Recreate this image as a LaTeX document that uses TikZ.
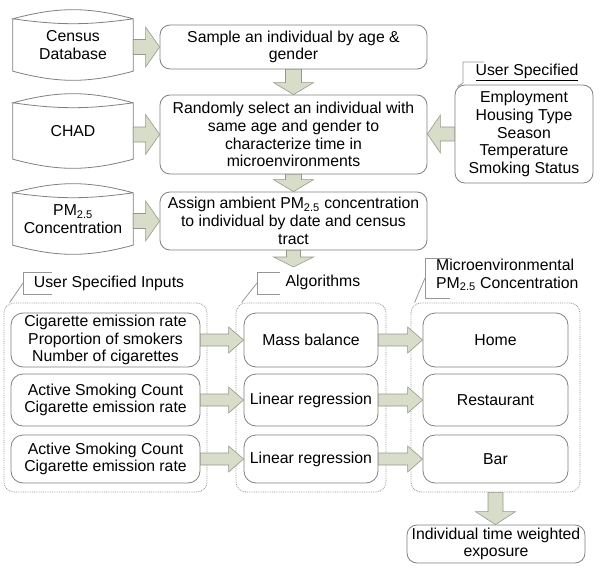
\documentclass[tikz,border=0pt]{standalone}
\usepackage{fontspec}
\setmainfont{Liberation Sans}
\usetikzlibrary{calc}
\definecolor{MyGrey}{RGB}{128,128,128}
\definecolor{MyDots}{RGB}{150,150,150}
\definecolor{MyFill}{RGB}{216,221,202}
\definecolor{MyEdge}{RGB}{150,152,135}
\newcommand{\lw}{0.8pt}
% outline of a database drum round a node
\newcommand{\dbdraw}[1]{%
  \draw[MyGrey, line width=\lw]
    ([yshift=-9pt]#1.north west) -- ([yshift=9pt]#1.south west)
    to[bend right=15] ([yshift=9pt]#1.south east)
    -- ([yshift=-9pt]#1.north east)
    to[bend right=15] ([yshift=-9pt]#1.north west)
    to[bend right=8] ([yshift=-9pt]#1.north east);}
\tikzset{
  box/.style={draw=MyGrey, line width=\lw, rounded corners=10pt, align=center, inner sep=0pt},
  grp/.style={draw=MyDots, line width=\lw, densely dotted, rounded corners=10pt, inner sep=0pt},
  db/.style={align=center, inner sep=0pt, minimum width=120pt, minimum height=70pt},
  callout/.style={draw=MyDots, line width=\lw},
  fatarrow/.style={draw=MyEdge, fill=MyFill, line width=0.6pt, line join=miter},
  % block arrow, left or right: shaft half width, head half width, head length
  hfat/.style n args={3}{fatarrow, to path={let \p1=(\tikztostart), \p2=(\tikztotarget),
      \n1={sign(\x2-\x1)} in
      (\x1,{\y1+#1}) -- ({\x2-(\n1)*#3},{\y1+#1}) -- ({\x2-(\n1)*#3},{\y1+#2})
      -- (\x2,\y1) -- ({\x2-(\n1)*#3},{\y1-#2}) -- ({\x2-(\n1)*#3},{\y1-#1})
      -- (\x1,{\y1-#1}) -- cycle}},
  % block arrow, up or down
  vfat/.style n args={3}{fatarrow, to path={let \p1=(\tikztostart), \p2=(\tikztotarget),
      \n1={sign(\y2-\y1)} in
      ({\x1+#1},\y1) -- ({\x1+#1},{\y2-(\n1)*#3}) -- ({\x1+#2},{\y2-(\n1)*#3})
      -- (\x1,\y2) -- ({\x1-#2},{\y2-(\n1)*#3}) -- ({\x1-#1},{\y2-(\n1)*#3})
      -- ({\x1-#1},\y1) -- cycle}},
}

\begin{document}
\begin{tikzpicture}[x=1pt, y=-1pt, font=\fontsize{15.8}{17.8}\selectfont]
  \useasboundingbox (0,0) rectangle (600,570);

  % data sources
  \node[db] (census) at (73,45) {Census\\Database};
  \node[db, minimum height=74pt] (chad) at (73,131) {CHAD};
  \node[db] (pmdb) at (73,219) {PM\textsubscript{2.5}\\Concentration};
  \foreach \db in {census, chad, pmdb} {\dbdraw{\db}}

  % main steps
  \node[box, minimum width=267pt, minimum height=44pt] (sample) at (293.5,47)
    {Sample an individual by age \&\\gender};
  \node[box, minimum width=267pt, minimum height=79pt] (random) at (293.5,134.5)
    {Randomly select an individual with\\same age and gender to\\characterize time in\\microenvironments};
  \node[box, minimum width=267pt, minimum height=58pt] (assign) at (293.5,221)
    {Assign ambient PM\textsubscript{2.5} concentration\\to individual by date and census\\tract};
  \node[box, minimum width=138pt, minimum height=98pt] (user) at (524,134)
    {Employment\\Housing Type\\Season\\Temperature\\Smoking Status};
  \node (userlbl) at (527,72) {\underline{User Specified}};
  \coordinate (algtop) at (293.5,267);

  % groups
  \node[grp, minimum width=203pt, minimum height=189pt] (inputs) at (105.5,397.5) {};
  \node[grp, minimum width=150pt, minimum height=189pt] (algs) at (311,397.5) {};
  \node[grp, minimum width=169pt, minimum height=189pt] (micro) at (495.5,397.5) {};
  \node (inlbl) at (109,283) {User Specified Inputs};
  \node (alglbl) at (323,282) {Algorithms};
  \node[align=left, anchor=west, inner sep=0pt] (melbl) at (436,275)
    {Microenvironmental\\PM\textsubscript{2.5} Concentration};

  \node[box, rounded corners=12pt, minimum width=189pt, minimum height=54pt] (in1) at (105.5,340)
    {Cigarette emission rate\\Proportion of smokers\\Number of cigarettes};
  \node[box, rounded corners=12pt, minimum width=189pt, minimum height=52pt] (in2) at (105.5,400)
    {Active Smoking Count\\Cigarette emission rate};
  \node[box, rounded corners=12pt, minimum width=189pt, minimum height=48pt] (in3) at (105.5,459)
    {Active Smoking Count\\Cigarette emission rate};
  \node[box, rounded corners=12pt, minimum width=134pt, minimum height=54pt] (alg1) at (311,340) {Mass balance};
  \node[box, rounded corners=12pt, minimum width=134pt, minimum height=52pt] (alg2) at (311,400) {Linear regression};
  \node[box, rounded corners=12pt, minimum width=134pt, minimum height=48pt] (alg3) at (311,459) {Linear regression};
  \node[box, rounded corners=12pt, minimum width=145pt, minimum height=54pt] (me1) at (495.5,340) {Home};
  \node[box, rounded corners=12pt, minimum width=145pt, minimum height=52pt] (me2) at (495.5,400) {Restaurant};
  \node[box, rounded corners=12pt, minimum width=145pt, minimum height=48pt] (me3) at (495.5,459) {Bar};

  \node[box, minimum width=178pt, minimum height=38pt] (final) at (496,544)
    {Individual time weighted\\exposure};

  % callouts
  \draw[callout] (484,62) -| (463,83) -- ([xshift=3pt,yshift=-2pt]user.north west);
  \draw[callout] (52,272) -| (23,294) -- (52,294);
  \draw[callout] (23,283) -- ([xshift=6pt]inputs.north west);
  \draw[callout] (280,272) -| (257,294) -- (280,294);
  \draw[callout] (257,283) -- ([xshift=6pt]algs.north west);
  \draw[callout] (450,258) -| (425,298) -- (450,298);
  \draw[callout] (425,278) -- ([xshift=4pt]micro.north west);

  % arrows
  \draw[hfat={7.5pt}{20pt}{14pt}] (census.east |- sample.west) to (sample.west);
  \draw[hfat={7.5pt}{20pt}{14pt}] (chad.east |- random.west) to (random.west);
  \draw[hfat={7.5pt}{20pt}{14pt}] (pmdb.east |- assign.west) to (assign.west);
  \draw[hfat={7pt}{19pt}{13pt}] (user.west) to (random.east);
  \draw[vfat={8pt}{20pt}{12pt}] (sample.south) to (random.north);
  \draw[vfat={8pt}{20pt}{12pt}] (random.south) to (assign.north);
  \draw[vfat={7pt}{20pt}{10pt}] (assign.south) to (algtop);
  \foreach \i in {1,2,3} {
    \draw[hfat={6pt}{13pt}{15pt}] (in\i.east) to (alg\i.west);
    \draw[hfat={6pt}{13pt}{15pt}] (alg\i.east) to (me\i.west);
  }
  \draw[vfat={7.5pt}{20pt}{13pt}] (micro.south) to (final.north);
\end{tikzpicture}
\end{document}
